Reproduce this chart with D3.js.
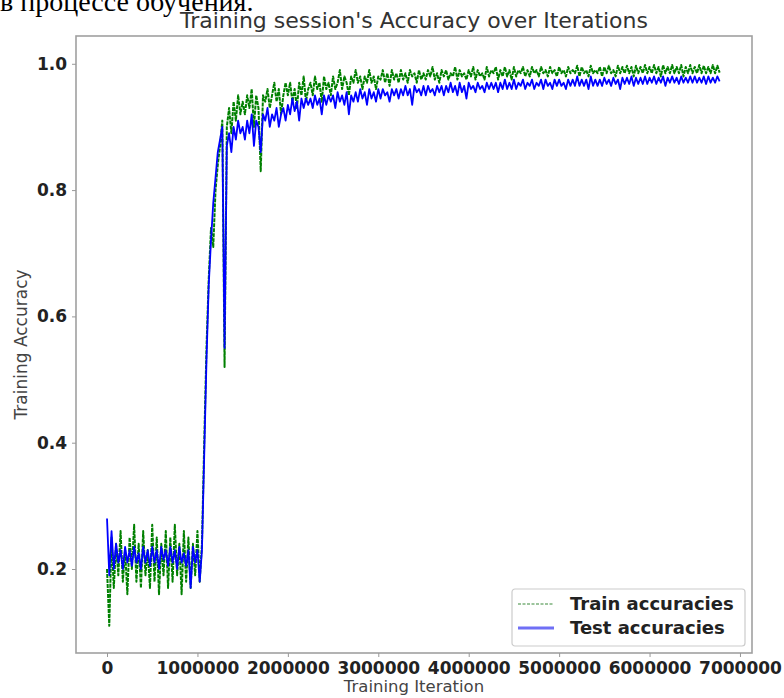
<!DOCTYPE html>
<html>
<head>
<meta charset="utf-8">
<script src="https://cdn.jsdelivr.net/npm/d3@7"></script>
<style>
  html, body { margin: 0; padding: 0; background: #fff; }
  svg { display: block; }
</style>
</head>
<body>
<svg id="chart" width="784" height="698"></svg>
<script>
// ---------------- DATA ----------------
const chartTitle = "Training session's Accuracy over Iterations";
const captionText = "в процессе обучения.";
const xLabel = "Training Iteration";
const yLabel = "Training Accuracy";
const seriesNames = ["Train accuracies", "Test accuracies"];
const iterationStep = 25000; // one recorded value every 25000 iterations
const xTicks = [0, 1000000, 2000000, 3000000, 4000000, 5000000, 6000000, 7000000];
const yTicks = [0.2, 0.4, 0.6, 0.8, 1.0];

const trainAccuracies = [
  0.20,0.11,0.25,0.17,0.24,0.19,0.26,0.18,0.23,0.16,
  0.25,0.20,0.27,0.18,0.24,0.17,0.26,0.19,0.23,0.17,
  0.27,0.18,0.25,0.16,0.24,0.19,0.26,0.17,0.25,0.18,
  0.27,0.19,0.24,0.16,0.26,0.18,0.25,0.17,0.24,0.19,
  0.26,0.18,
  0.24,0.40,0.55,0.66,0.74,0.71,0.80,0.84,0.87,0.91,0.52,
  0.90,0.93,0.89,0.94,0.91,0.95,0.92,
  0.94,0.92,0.95,0.93,0.96,0.90,0.95,0.93,0.83,0.95,
  0.94,0.96,0.93,0.95,0.97,0.94,0.96,0.92,0.95,0.97,
  0.95,0.97,0.94,0.96,0.93,0.97,0.95,0.98,0.94,0.96,
  0.97,0.95,0.98,0.96,0.97,0.94,0.98,0.96,0.97,0.95,
  0.98,0.96,0.97,0.99,0.96,0.98,0.97,0.95,0.98,0.97,
  0.99,0.97,0.98,0.96,0.98,0.97,0.99,0.97,0.98,0.96,
  0.98,0.975,0.99,0.97,0.985,0.965,0.99,0.975,0.985,0.97,
  0.99,0.975,0.985,0.97,0.99,0.98,0.985,0.97,0.99,0.975,
  0.985,0.975,0.99,0.98,0.995,0.975,0.985,0.97,0.99,0.98,
  0.99,0.975,0.985,0.98,0.995,0.975,0.99,0.98,0.985,0.975,
  0.99,0.98,0.995,0.975,0.99,0.98,0.985,0.975,0.995,0.98,
  0.99,0.985,0.995,0.975,0.99,0.98,0.995,0.98,0.99,0.975,
  0.995,0.98,0.99,0.985,0.995,0.98,0.99,0.98,0.995,0.985,
  0.99,0.98,0.995,0.985,0.99,0.98,0.995,0.985,0.99,0.98,
  0.995,0.985,0.99,0.98,0.995,0.985,0.99,0.985,0.997,0.98,
  0.995,0.985,0.99,0.98,0.997,0.985,0.99,0.985,0.995,0.98,
  0.995,0.985,0.997,0.985,0.99,0.98,0.997,0.985,0.995,0.985,
  0.997,0.985,0.995,0.98,0.997,0.985,0.995,0.985,0.998,0.985,
  0.995,0.985,0.998,0.985,0.995,0.98,0.998,0.985,0.995,0.985,
  0.998,0.985,0.995,0.985,0.998,0.98,0.995,0.985,0.998,0.985,
  0.995,0.985,0.998,0.985,0.997,0.985,0.995,0.985,0.998,0.985,
  0.997,0.986
];

const testAccuracies = [
  0.28,0.19,0.26,0.20,0.24,0.21,0.23,0.20,0.235,0.21,
  0.23,0.205,0.235,0.21,0.225,0.20,0.235,0.21,0.23,0.205,
  0.235,0.21,0.23,0.20,0.235,0.215,0.23,0.205,0.235,0.21,
  0.23,0.20,0.235,0.21,0.225,0.205,0.23,0.17,0.235,0.21,
  0.23,0.18,
  0.23,0.38,0.53,0.65,0.72,0.78,0.82,0.86,0.88,0.90,0.55,
  0.87,0.89,0.86,0.90,0.88,0.91,0.89,
  0.90,0.88,0.91,0.89,0.92,0.87,0.91,0.90,0.86,0.92,
  0.91,0.93,0.90,0.92,0.91,0.93,0.90,0.92,0.93,0.91,
  0.935,0.92,0.945,0.925,0.94,0.91,0.945,0.93,0.945,0.935,
  0.945,0.93,0.95,0.935,0.945,0.92,0.95,0.935,0.95,0.94,
  0.95,0.93,0.955,0.94,0.95,0.935,0.955,0.92,0.95,0.94,
  0.955,0.94,0.96,0.945,0.955,0.935,0.96,0.945,0.955,0.94,
  0.96,0.945,0.96,0.95,0.955,0.94,0.96,0.95,0.96,0.945,
  0.96,0.95,0.965,0.95,0.96,0.935,0.965,0.955,0.96,0.95,
  0.965,0.95,0.965,0.955,0.96,0.95,0.965,0.955,0.965,0.95,
  0.965,0.955,0.97,0.955,0.965,0.95,0.97,0.955,0.965,0.945,
  0.97,0.96,0.965,0.955,0.97,0.96,0.965,0.955,0.97,0.96,
  0.97,0.96,0.97,0.955,0.97,0.96,0.975,0.96,0.97,0.96,
  0.975,0.96,0.97,0.965,0.975,0.96,0.97,0.965,0.975,0.96,
  0.97,0.965,0.975,0.96,0.975,0.965,0.97,0.96,0.975,0.965,
  0.975,0.965,0.97,0.96,0.975,0.965,0.975,0.965,0.98,0.965,
  0.975,0.965,0.975,0.96,0.98,0.965,0.975,0.965,0.975,0.965,
  0.978,0.968,0.975,0.965,0.978,0.968,0.975,0.96,0.978,0.968,
  0.978,0.968,0.98,0.965,0.978,0.968,0.978,0.968,0.98,0.968,
  0.978,0.97,0.98,0.968,0.978,0.97,0.98,0.965,0.978,0.97,
  0.98,0.97,0.978,0.968,0.98,0.97,0.978,0.97,0.98,0.97,
  0.98,0.97,0.978,0.97,0.98,0.968,0.98,0.97,0.978,0.97,
  0.98,0.972
];

// ---------------- CHART ----------------
const svg = d3.select("#chart");
const plot = { left: 76, right: 752, top: 36, bottom: 653 };

const x = d3.scaleLinear().domain([-343000, 7133000]).range([plot.left, plot.right]);
const y = d3.scaleLinear().domain([0.067, 1.044]).range([plot.bottom, plot.top]);

const FONT = "'DejaVu Sans', sans-serif";

// caption fragment at the top (cropped by the page edge, as in the source image)
svg.append("text")
  .attr("x", 0).attr("y", 11)
  .attr("font-family", "'Liberation Serif', 'Times New Roman', serif")
  .attr("font-size", 28).attr("fill", "#000")
  .text(captionText);

svg.append("defs").append("clipPath").attr("id", "plotClip")
  .append("rect")
  .attr("x", plot.left).attr("y", plot.top)
  .attr("width", plot.right - plot.left).attr("height", plot.bottom - plot.top);

const line = d3.line()
  .x((d, i) => x(i * iterationStep))
  .y(d => y(d));

const g = svg.append("g").attr("clip-path", "url(#plotClip)");

g.append("path")
  .datum(trainAccuracies)
  .attr("d", line)
  .attr("fill", "none")
  .attr("stroke", "#008000")
  .attr("stroke-width", 2)
  .attr("stroke-linejoin", "round")
  .attr("stroke-dasharray", "4,1");

g.append("path")
  .datum(testAccuracies)
  .attr("d", line)
  .attr("fill", "none")
  .attr("stroke", "#0000ff")
  .attr("stroke-width", 1.8)
  .attr("stroke-linejoin", "round");

// frame
svg.append("rect")
  .attr("x", plot.left).attr("y", plot.top)
  .attr("width", plot.right - plot.left).attr("height", plot.bottom - plot.top)
  .attr("fill", "none").attr("stroke", "#a0a0a0").attr("stroke-width", 1.6);

// axes
const xAxis = d3.axisBottom(x).tickValues(xTicks).tickFormat(d3.format("d")).tickSize(4).tickPadding(5);
const yAxis = d3.axisLeft(y).tickValues(yTicks).tickFormat(d3.format(".1f")).tickSize(4).tickPadding(5);

const gx = svg.append("g").attr("transform", `translate(0,${plot.bottom})`).call(xAxis);
const gy = svg.append("g").attr("transform", `translate(${plot.left},0)`).call(yAxis);
[gx, gy].forEach(a => {
  a.select(".domain").remove();
  a.selectAll(".tick line").attr("stroke", "#999").attr("stroke-width", 1);
  a.selectAll(".tick text")
    .attr("font-family", FONT).attr("font-weight", "bold")
    .attr("font-size", 17).attr("fill", "#222");
});
gx.selectAll(".tick text").attr("dy", "0.72em");

// title & labels
svg.append("text")
  .attr("x", (plot.left + plot.right) / 2).attr("y", 28)
  .attr("text-anchor", "middle")
  .attr("font-family", FONT).attr("font-size", 22).attr("fill", "#333")
  .text(chartTitle);

svg.append("text")
  .attr("x", (plot.left + plot.right) / 2).attr("y", 692)
  .attr("text-anchor", "middle")
  .attr("font-family", FONT).attr("font-size", 16.5).attr("fill", "#444")
  .text(xLabel);

svg.append("text")
  .attr("transform", `translate(27,${(plot.top + plot.bottom) / 2}) rotate(-90)`)
  .attr("text-anchor", "middle")
  .attr("font-family", FONT).attr("font-size", 17).attr("fill", "#444")
  .text(yLabel);

// legend
const leg = svg.append("g").attr("transform", "translate(512,589)");
leg.append("rect")
  .attr("x", 0).attr("y", 0).attr("width", 233).attr("height", 57)
  .attr("rx", 3).attr("fill", "#fff").attr("fill-opacity", 0.85)
  .attr("stroke", "#ccc").attr("stroke-width", 1.2);
const legendStyles = [
  { color: "#3a8a3a", width: 1.2, dash: "3,1.5" },
  { color: "#6f6ff5", width: 3, dash: null }
];
seriesNames.forEach((name, i) => {
  const yy = 15 + i * 24;
  const st = legendStyles[i];
  const ln = leg.append("line")
    .attr("x1", 6).attr("x2", 42).attr("y1", yy).attr("y2", yy)
    .attr("stroke", st.color).attr("stroke-width", st.width);
  if (st.dash) ln.attr("stroke-dasharray", st.dash);
  leg.append("text")
    .attr("x", 58).attr("y", yy + 6)
    .attr("font-family", FONT).attr("font-weight", "bold")
    .attr("font-size", 18).attr("fill", "#222")
    .text(name);
});
</script>
</body>
</html>
